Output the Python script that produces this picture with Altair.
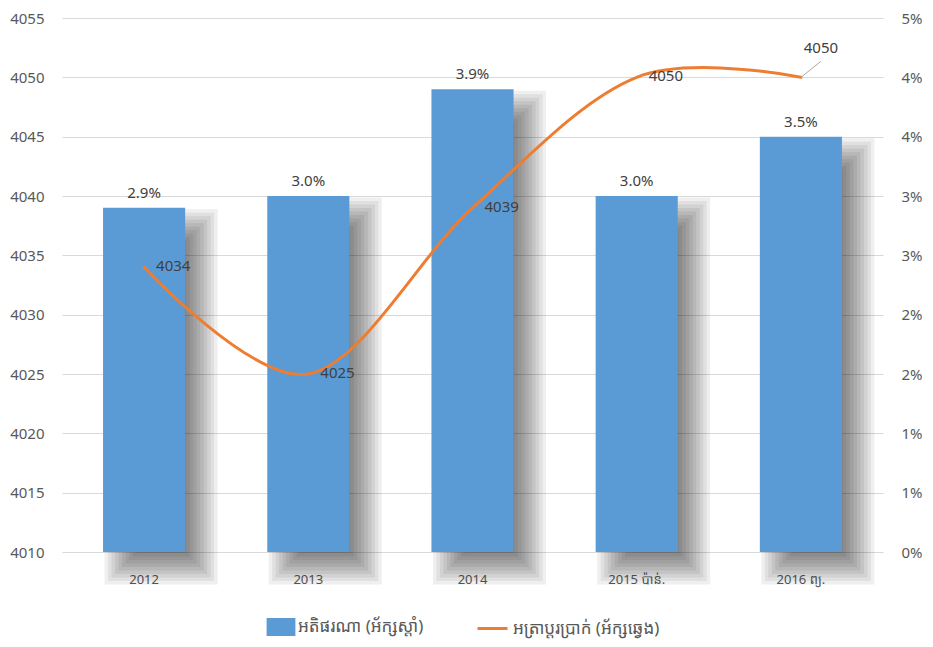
import altair as alt
import pandas as pd

# ---- data ----
years = ["2012", "2013", "2014", "2015 ប៉ាន់.", "2016 ព្យ."]
inflation = [2.9, 3.0, 3.9, 3.0, 3.5]          # percent (right axis)
exchange = [4034, 4025, 4039, 4050, 4050]      # riel per USD (left axis)
left_ticks = [4010, 4015, 4020, 4025, 4030, 4035, 4040, 4045, 4050, 4055]
bar_name = "អតិផរណា (អ័ក្សស្ដាំ)"
line_name = "អត្រាប្តូរប្រាក់ (អ័ក្សឆ្វេង)"

BLUE = "#5B9BD5"
ORANGE = "#ED7D31"
FONT = "Noto Sans, Noto Sans Khmer, sans-serif"
FONT_KH = "Noto Sans Khmer, Khmer OS, Noto Serif Khmer, Noto Sans, sans-serif"

df = pd.DataFrame({
    "year": years,
    "infl": inflation,
    "rate": exchange,
    "bar_series": [bar_name] * len(years),
    "line_series": [line_name] * len(years),
})

base = alt.Chart(df).transform_calculate(
    infl_y="4010 + datum.infl * 10",
    infl_label="format(datum.infl / 100, '.1%')",
)

yscale = alt.Scale(domain=[4010, 4055], nice=False, zero=False)
x = alt.X(
    "year:N", sort=years,
    scale=alt.Scale(paddingInner=0.5, paddingOuter=0.25),
    axis=alt.Axis(title=None, labelAngle=0, ticks=False, domain=False,
                  labelFontSize=13, labelColor="#595959", labelPadding=21,
                  labelFont=FONT, grid=False),
)

# soft drop shadows behind bars (stack of translucent, growing rectangles)
shadows = []
for e in [-16, -12.5, -9, -5.5, -2, 1.5, 5, 8.5, 12, 15.5]:
    shadows.append(
        base.mark_bar(color="black", opacity=0.062,
                      width=alt.RelativeBandSize(1 + 2 * e / 82.1),
                      xOffset=17, yOffset=17 - e, y2Offset=17 + e)
        .encode(x=x, y=alt.Y("infl_y:Q", scale=yscale, axis=None),
                y2=alt.datum(4010))
    )

bars = base.mark_bar().encode(
    x=x,
    y=alt.Y("infl_y:Q", scale=yscale,
            axis=alt.Axis(orient="right", values=left_ticks, grid=False,
                          ticks=False, domain=False, title=None,
                          labelExpr="format(round((datum.value - 4010) / 10), 'd') + '%'",
                          labelFontSize=15, labelColor="#595959",
                          labelPadding=18, labelFont=FONT)),
    y2=alt.datum(4010),
    color=alt.Color("bar_series:N", scale=alt.Scale(range=[BLUE]),
                    legend=alt.Legend(title=None, orient="none", legendX=210,
                                      legendY=600, padding=0,
                                      symbolType="M-1.6,-1H1.6V1H-1.6Z",
                                      symbolSize=324, symbolStrokeWidth=0,
                                      symbolOpacity=1, labelOffset=8,
                                      labelFontSize=17, labelColor="#595959",
                                      labelFont=FONT_KH, labelLimit=400)),
)

bar_lbl = base.mark_text(baseline="bottom", dy=-7, fontSize=15,
                         color="#404040", font=FONT).encode(
    x=x, y=alt.Y("infl_y:Q", scale=yscale, axis=None), text="infl_label:N")

line = base.mark_line(interpolate="cardinal", strokeWidth=3,
                      strokeCap="round").encode(
    x=x,
    y=alt.Y("rate:Q", scale=yscale,
            axis=alt.Axis(orient="left", values=left_ticks, grid=True,
                          gridColor="#D9D9D9", gridWidth=1, ticks=False,
                          domain=False, title=None, format="d",
                          labelFontSize=15, labelColor="#595959",
                          labelPadding=18, labelFont=FONT)),
    stroke=alt.Stroke("line_series:N", scale=alt.Scale(range=[ORANGE]),
                      legend=alt.Legend(title=None, orient="none", legendX=414,
                                        legendY=594, padding=0,
                                        symbolType="stroke", symbolSize=900,
                                        symbolStrokeWidth=3, labelOffset=4,
                                        labelFontSize=17, labelColor="#595959",
                                        labelFont=FONT_KH, labelLimit=400)),
)

lbl_main = base.transform_filter(alt.datum.year != years[-1]).mark_text(
    align="left", baseline="middle", dx=12, dy=-1, fontSize=15,
    color="#404040", font=FONT).encode(
    x=x, y=alt.Y("rate:Q", scale=yscale, axis=None), text="rate:Q")

lbl_last = base.transform_filter(alt.datum.year == years[-1]).mark_text(
    align="center", baseline="middle", dx=20, dy=-29, fontSize=15,
    color="#404040", font=FONT).encode(
    x=x, y=alt.Y("rate:Q", scale=yscale, axis=None), text="rate:Q")

leader = base.transform_filter(alt.datum.year == years[-1]).mark_rule(
    color="#A6A6A6", strokeWidth=1, x2Offset=20, y2Offset=-16).encode(
    x=x, x2=alt.X2("year:N"),
    y=alt.Y("rate:Q", scale=yscale, axis=None), y2=alt.Y2("rate:Q"))

chart = alt.layer(*shadows, bars, bar_lbl, line, leader, lbl_main, lbl_last
                  ).resolve_axis(y="independent").properties(
    width=821, height=534,
    autosize=alt.AutoSizeParams(type="none"),
    padding={"left": 54, "top": 10, "right": 42, "bottom": 87},
    background="white",
).configure_view(stroke=None)

chart.save("out.html", embed_options={"renderer": "svg", "actions": False})
